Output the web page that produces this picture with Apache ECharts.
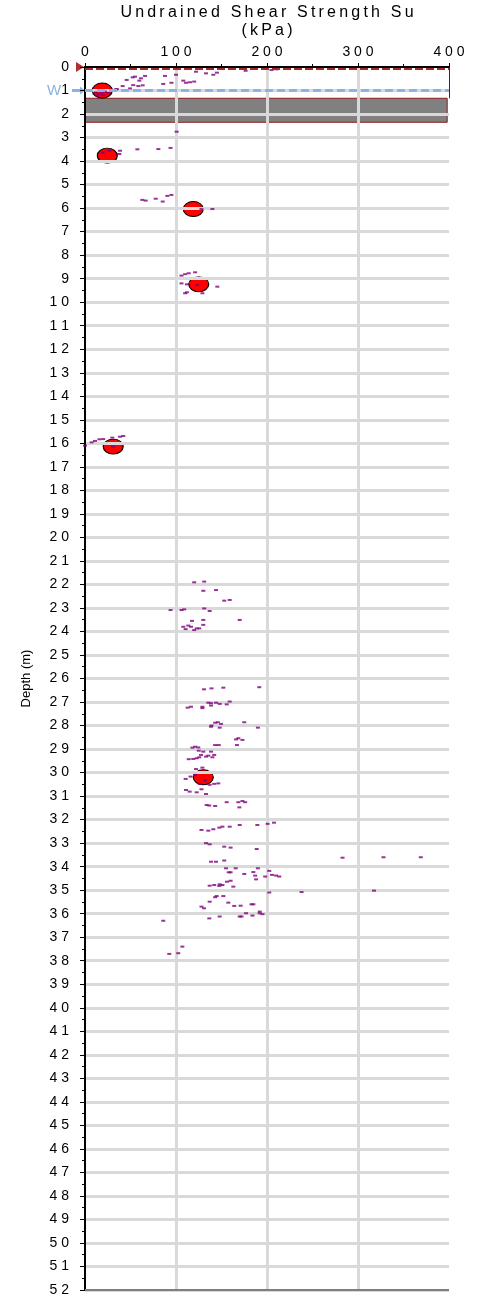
<!DOCTYPE html>
<html>
<head>
<meta charset="utf-8">
<script src="https://cdn.jsdelivr.net/npm/echarts@6/dist/echarts.min.js"></script>
<style>html,body{margin:0;padding:0;background:#fff}#c{width:481px;height:1298px}</style>
</head>
<body>
<div id="c"></div>
<script>
// ---- Data ----
const xTicks = [0, 100, 200, 300, 400];
const depthMin = 0, depthMax = 52;
const waterDepth = 1.0;
const bandTop = 1.33, bandBottom = 2.35;
// lab test points (red ellipses): [Su kPa, depth m]
const labSu = [19, 24.5, 119, 125, 31, 130];
const labDepth = [1.0, 3.77, 6.04, 9.24, 16.14, 30.2];
// field readings (purple dashes)
const fieldPoints = [
  [45.8,0.55],[52.4,0.44],[55,0.41],[61.5,0.48],[66,0.38],[53,0.77],[41.4,0.81],[58.6,0.81],[63.4,0.78],[59.7,0.58],
  [49.5,0.91],[87.9,0.38],[86,0.72],[95,0.67],[100,0.33],[108,0.58],[111,0.67],[115.4,0.65],[120,0.62],[122,0.2],
  [133,0.27],[141,0.33],[145,0.24],[176.5,0.16],[205,0.13],[210.6,0.1],[34,0.95],[30,0.98],[35,0.94],
  [12,1.08],[15,1.15],[18,1.12],[20,1.2],[14,1.22],[22,1.05],[26,1.1],
  [100.7,2.75],
  [38.5,3.56],[37.7,3.7],[19.4,3.64],[26.7,3.56],[57.5,3.5],[80.6,3.49],[94,3.44],
  [63,5.65],[66.7,5.68],[77.7,5.6],[85.4,5.72],[90.5,5.48],[95,5.44],[140,6.04],[128,6.04],
  [106,8.87],[110,8.81],[114,8.77],[121,8.73],[106,9.2],[112,9.24],[123.4,9.27],[145.4,9.34],[112,9.58],[110,9.62],[129,9.62],
  [0,16.1],[7.3,15.96],[11,15.9],[15.8,15.83],[20,15.82],[30,15.76],[38.5,15.72],[42,15.69],[31,16.14],
  [120,21.91],[131,21.88],[130,22.27],[144,22.24],[153,22.69],[159,22.66],[94,23.09],[106,23.09],[109,23.06],[131,23.02],
  [137,23.13],[130,23.51],[170,23.51],[117.6,23.55],[130,23.72],[108,23.8],[113.5,23.75],[116.5,23.8],[110.6,23.9],[120,23.94],
  [122.7,23.87],[125.6,23.87],
  [130.8,26.46],[139,26.42],[152,26.39],[191.5,26.37],[112.8,27.24],[116.5,27.2],[129,27.2],[129,27.26],[135.5,27.03],[138.5,27.05],
  [144,27.03],[148,27.08],[155.7,27.1],[159,26.98],[138.5,27.15],[143,27.88],[146,27.86],[149.5,27.93],[139,28.0],[138.5,28.05],
  [148,28.09],[175,27.86],[190,28.09],[166,28.59],[168.5,28.54],[173,28.61],[167,28.83],[143,28.83],[147,28.83],[118,28.94],
  [121,28.9],[124.5,28.93],[125,29.07],[130,29.11],[138.5,29.11],[127.5,29.25],[135.5,29.28],[142,29.25],[125.6,29.35],[133,29.32],
  [140,29.35],[114,29.43],[119,29.42],[122.7,29.39],[129,29.79],[122,29.85],
  [116,30.17],[110.6,30.27],[121,30.1],[132,30.34],[137,30.52],[142,30.48],[146.5,30.46],[126,30.48],[111,30.74],[115,30.81],
  [122.7,30.84],[128,30.71],[133,30.91],[133.7,31.38],[136.6,31.4],[143,31.42],[155.7,31.26],[168.5,31.26],[173,31.21],[176,31.26],
  [169.6,31.48],[128,32.44],[135.5,32.47],[141,32.41],[147.6,32.34],[151,32.3],[159,32.3],[170,32.23],[189.4,32.23],[200.7,32.18],
  [207.7,32.13],[133,33.0],[137,33.05],[153,33.15],[160,33.19],[188.7,33.25],[283,33.62],[328,33.6],[369,33.6],[138.5,33.79],
  [144,33.79],[153,33.74],[155,34.07],[165.6,34.07],[190,34.07],[158,34.24],[160,34.24],[175,34.31],[185,34.23],[187,34.38],
  [198,34.42],[202.5,34.18],[205.5,34.35],[210,34.38],[213.5,34.42],[188,34.54],[156,34.64],[160,34.6],[137,34.81],[142,34.78],
  [148,34.75],[147.6,34.82],[151,34.78],[163,34.85],[202.5,35.1],[238,35.08],[317.6,35.02],[144.7,35.25],[152,35.25],[143,35.3],
  [137,35.49],[128,35.7],[130.8,35.77],[157.5,35.53],[164,35.67],[171,35.66],[183,35.6],[185,35.6],[177,35.98],[192,35.91],
  [192,35.98],[195,36.02],[184,36.08],[170,36.12],[172,36.12],[148,36.12],[136.6,36.2],[86,36.3],[107,37.4],[102.5,37.68],[92.6,37.71]
];

const FONT = "'Liberation Sans', Arial, sans-serif";
const spaced = s => String(s).split('').join(' ');
const thin = s => String(s).split('').join('\u2009');

const chart = echarts.init(document.getElementById('c'), null, {renderer: 'canvas'});
const G = {left: 85, top: 67, right: 32, bottom: 8};

const option = {
  animation: false,
  backgroundColor: '#ffffff',
  grid: {left: G.left, top: G.top, right: G.right, bottom: G.bottom, containLabel: false},
  xAxis: {
    type: 'value', position: 'top', min: xTicks[0], max: xTicks[xTicks.length - 1], interval: 100, z: 1,
    axisLine: {show: true, onZero: false, lineStyle: {color: '#000', width: 2}},
    axisTick: {show: true, length: 4, lineStyle: {color: '#000', width: 1}},
    minorTick: {show: true, splitNumber: 2, length: 3, lineStyle: {color: '#000', width: 1}},
    axisLabel: {formatter: v => spaced(v), fontFamily: FONT, fontSize: 14, color: '#000', margin: 8},
    splitLine: {show: true, showMinLine: false, showMaxLine: false, lineStyle: {color: '#D9D9D9', width: 3}}
  },
  yAxis: {
    type: 'value', inverse: true, min: depthMin, max: depthMax, interval: 1, z: 1,
    name: 'Depth (m)', nameLocation: 'middle', nameGap: 52, nameRotate: 90,
    nameTextStyle: {fontFamily: FONT, fontSize: 13, color: '#000'},
    axisLine: {show: true, onZero: false, lineStyle: {color: '#000', width: 2}},
    axisTick: {show: true, length: 5, lineStyle: {color: '#000', width: 1}},
    minorTick: {show: true, splitNumber: 2, length: 3, lineStyle: {color: '#000', width: 1}},
    axisLabel: {formatter: v => spaced(v), fontFamily: FONT, fontSize: 14, color: '#000', margin: 16},
    splitLine: {show: true, showMinLine: false, lineStyle: {color: '#D9D9D9', width: 3}}
  },
  series: [
    {
      type: 'scatter', z: 0.5, silent: true,
      symbol: 'circle', symbolSize: [20, 15],
      itemStyle: {color: '#FF0000', borderColor: '#000', borderWidth: 1, opacity: 1},
      data: labSu.map((s, i) => [s, labDepth[i]]),
      markArea: {
        silent: true, z: 0.3,
        itemStyle: {color: '#808080', borderColor: '#8B1A1A', borderWidth: 1},
        data: [[{coord: [0, bandTop]}, {coord: [398, bandBottom]}]]
      }
    },
    {
      type: 'scatter', z: 3, silent: true,
      symbol: 'rect', symbolSize: [4, 2],
      itemStyle: {color: '#800080'},
      data: fieldPoints,
      markLine: {
        silent: true, symbol: 'none', label: {show: false},
        data: [
          [{coord: [0, 0.06], lineStyle: {color: '#A52A2A', width: 2, type: [8, 3]}}, {coord: [400, 0.06]}],
          [{coord: [400, 0], lineStyle: {color: '#5A1A1A', width: 1, type: 'solid'}}, {coord: [400, bandTop]}],
          [{coord: [0, waterDepth], lineStyle: {color: '#8DB3E2', width: 3, type: [8, 4]}}, {coord: [400, waterDepth]}],
          [{coord: [0, depthMax], lineStyle: {color: '#7F7F7F', width: 2, type: 'solid'}}, {coord: [400, depthMax]}]
        ]
      }
    }
  ]
};
chart.setOption(option);

// annotations positioned through the chart's own scales
const pTop = chart.convertToPixel({xAxisIndex: 0, yAxisIndex: 0}, [0, 0]);
const pW = chart.convertToPixel({xAxisIndex: 0, yAxisIndex: 0}, [0, waterDepth]);
const pRight = chart.convertToPixel({xAxisIndex: 0, yAxisIndex: 0}, [400, 0]);
const cx = (pTop[0] + pRight[0]) / 2;
chart.setOption({
  graphic: [
    {type: 'text', x: cx, y: 13, style: {text: thin('Undrained Shear Strength Su'), font: '16px ' + FONT, fill: '#000', textAlign: 'center', textVerticalAlign: 'middle'}},
    {type: 'text', x: cx, y: 31, style: {text: thin('(kPa)'), font: '16px ' + FONT, fill: '#000', textAlign: 'center', textVerticalAlign: 'middle'}},
    {type: 'polygon', shape: {points: [[pTop[0] - 9, pTop[1] - 5], [pTop[0] - 1, pTop[1]], [pTop[0] - 9, pTop[1] + 5]]}, style: {fill: '#B03030'}},
    {type: 'line', shape: {x1: pW[0] - 13, y1: pW[1], x2: pW[0] - 4, y2: pW[1]}, style: {stroke: '#8DB3E2', lineWidth: 3}},
    {type: 'polygon', shape: {points: [[pW[0] - 5, pW[1] - 4], [pW[0], pW[1]], [pW[0] - 5, pW[1] + 4]]}, style: {fill: '#8DB3E2'}},
    {type: 'text', x: pW[0] - 31, y: pW[1], style: {text: 'W', font: '15px ' + FONT, fill: '#8DB3E2', textAlign: 'center', textVerticalAlign: 'middle'}}
  ]
});
</script>
</body>
</html>
